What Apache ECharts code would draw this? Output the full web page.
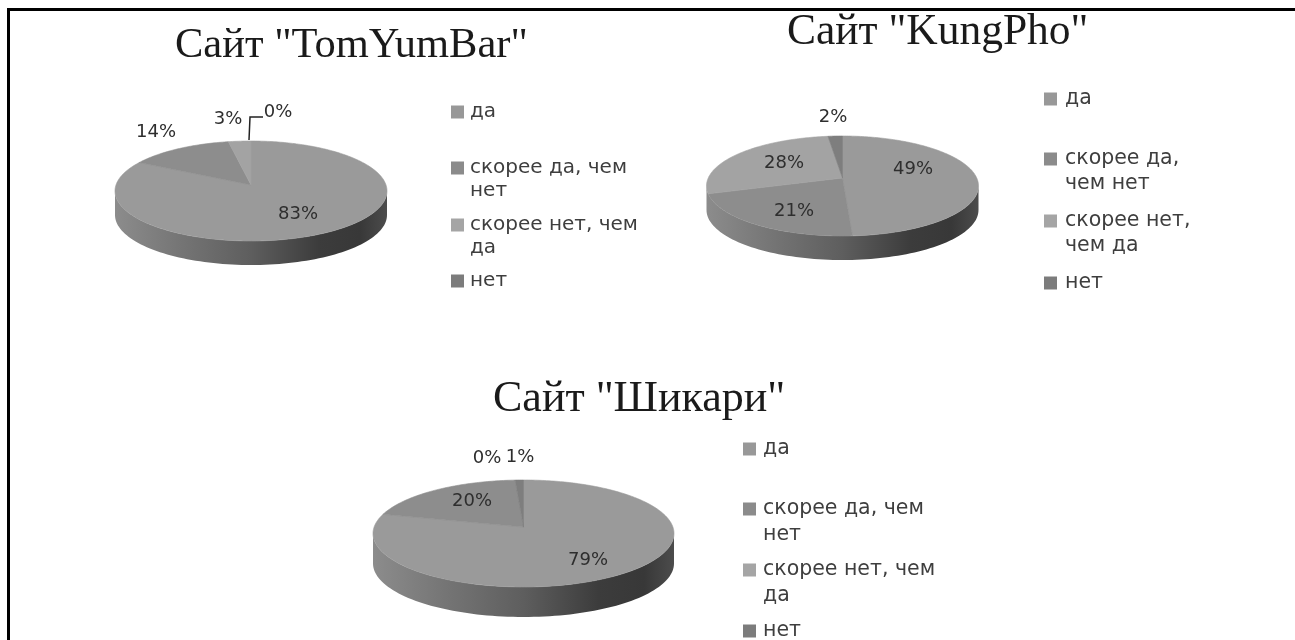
<!DOCTYPE html>
<html>
<head>
<meta charset="utf-8">
<style>
html,body{margin:0;padding:0;background:#fff;overflow:hidden}
#frame{position:absolute;left:7px;top:8px;width:1288px;height:632px;border-left:3px solid #000;border-top:3px solid #000;box-sizing:border-box;z-index:2;pointer-events:none}
#chart{position:absolute;left:0;top:0;width:1295px;height:640px;filter:blur(0.6px)}
</style>
<script src="https://cdn.jsdelivr.net/npm/echarts@6/dist/echarts.min.js"></script>
</head>
<body>
<div id="frame"></div>
<div id="chart"></div>
<script>
const categories = ['да', 'скорее да, чем нет', 'скорее нет, чем да', 'нет'];
const tomYumBarValues = [83, 14, 3, 0];
const kungPhoValues = [49, 21, 28, 2];
const shikariValues = [79, 20, 0, 1];
const titles = ['Сайт "TomYumBar"', 'Сайт "KungPho"', 'Сайт "Шикари"'];

const sliceColors = ['#9a9a9a', '#8d8d8d', '#a3a3a3', '#7e7e7e'];
const legendColors = ['#989898', '#8b8b8b', '#a5a5a5', '#7c7c7c'];

const pies = [
  { title: titles[0], values: tomYumBarValues,
    titleLeft: 175, titleTop: 24, titleSize: 42.5,
    cx: 251, cy: 191, rx: 136, ry: 50, depth: 24, k: 0.12,
    labelSize: 18,
    labels: [[298, 214], [156, 132], [228, 119], [278, 112]],
    leader: { index: 3, points: [[249, 140], [250, 117], [263, 117]] },
    legendX: 451, legendSize: 20, lineHeight: 23, textPad: 1,
    legendY: [111, 167, 224, 280],
    breaks: ['да', 'скорее да, чем\nнет', 'скорее нет, чем\nда', 'нет'] },
  { title: titles[1], values: kungPhoValues,
    titleLeft: 787, titleTop: 11, titleSize: 43.5,
    cx: 842.5, cy: 186, rx: 136, ry: 50, depth: 24, k: 0.16,
    labelSize: 18,
    labels: [[913, 169], [794, 211], [784, 163], [833, 117]],
    leader: null,
    legendX: 1044, legendSize: 20.5, lineHeight: 25, textPad: 3,
    legendY: [98, 158, 220, 282],
    breaks: ['да', 'скорее да,\nчем нет', 'скорее нет,\nчем да', 'нет'] },
  { title: titles[2], values: shikariValues,
    titleLeft: 493, titleTop: 377, titleSize: 44,
    cx: 523.5, cy: 533.5, rx: 150.5, ry: 53.5, depth: 30, k: 0.12,
    labelSize: 18,
    labels: [[588, 560], [472, 501], [487, 458], [520, 457]],
    leader: null,
    legendX: 743, legendSize: 20.5, lineHeight: 26, textPad: 2,
    legendY: [448, 508, 569, 630],
    breaks: ['да', 'скорее да, чем\nнет', 'скорее нет, чем\nда', 'нет'] }
];

const SWATCH = 13;

// point on the tilted pie rim for a share (0..100) clockwise from the top
function rimPoint(p, pct) {
  const t = pct / 100 * 2 * Math.PI;
  const x = Math.sin(t), y = -Math.cos(t);
  const w = 1 - p.k * y;
  return [p.cx + p.rx * x * Math.sqrt(1 - p.k * p.k) / w,
          p.cy + p.ry * (y - p.k) / w];
}

function sliceRender(p, idx) {
  return function (params, api) {
    const value = api.value(0), start = api.value(1);
    const children = [];
    if (value > 0) {
      const pts = [[p.cx, p.cy - p.k * p.ry]];
      const n = Math.max(2, Math.ceil(value * 3.6));
      for (let i = 0; i <= n; i++) pts.push(rimPoint(p, start + value * i / n));
      children.push({ type: 'polygon', shape: { points: pts },
        style: { fill: sliceColors[idx], stroke: sliceColors[idx], lineWidth: 0.6 } });
    }
    if (p.leader && p.leader.index === idx) {
      children.push({ type: 'polyline', shape: { points: p.leader.points }, z2: 9,
        style: { stroke: '#222', lineWidth: 1.5, fill: null } });
    }
    children.push({ type: 'text', z2: 10, style: {
      text: value + '%', x: p.labels[idx][0], y: p.labels[idx][1],
      align: 'center', verticalAlign: 'middle',
      font: p.labelSize + 'px "DejaVu Sans"', fill: '#2e2e2e' } });
    return { type: 'group', children };
  };
}

function sideRender(p) {
  return function () {
    const top = [], bottom = [];
    for (let a = -90; a <= 90; a += 2) {
      const r = a * Math.PI / 180;
      const x = p.cx + p.rx * Math.sin(r), y = p.cy + p.ry * Math.cos(r);
      top.push([x, y]);
      bottom.unshift([x, y + p.depth]);
    }
    return { type: 'polygon', shape: { points: top.concat(bottom) }, style: {
      fill: new echarts.graphic.LinearGradient(0, 0, 1, 0, [
        { offset: 0, color: '#8c8c8c' }, { offset: 0.25, color: '#747474' },
        { offset: 0.5, color: '#5e5e5e' }, { offset: 0.75, color: '#3c3c3c' },
        { offset: 0.9, color: '#383838' }, { offset: 1, color: '#4c4c4c' }]) } };
  };
}

const series = [], legends = [];
pies.forEach(function (p) {
  series.push({ type: 'custom', name: 'боковая сторона', coordinateSystem: 'none',
    silent: true, data: [[100]], renderItem: sideRender(p), animation: false });
  let cum = 0;
  p.values.forEach(function (v, i) {
    series.push({ type: 'custom', name: categories[i], coordinateSystem: 'none',
      silent: true, data: [[v, cum]], renderItem: sliceRender(p, i), animation: false,
      itemStyle: { color: legendColors[i] } });
    cum += v;
    const text = p.breaks[i];
    const lines = text.split('\n').length;
    const h = SWATCH + (lines - 1) * p.lineHeight;
    // invisible tail on the path keeps the swatch beside the first line of a wrapped entry
    const icon = 'path://M0 0H' + SWATCH + 'V' + SWATCH + 'H0Z' +
      (lines > 1 ? 'M0 ' + h + 'L0.01 ' + h : '');
    legends.push({
      show: true, orient: 'vertical', padding: 0, selectedMode: false,
      left: p.legendX, top: p.legendY[i] - p.lineHeight / 2 - 1,
      itemWidth: SWATCH, itemHeight: h, itemGap: 0,
      symbolKeepAspect: false,
      data: [{ name: categories[i], icon: icon, itemStyle: { color: legendColors[i] } }],
      formatter: function () { return text; },
      textStyle: { fontFamily: 'DejaVu Sans', fontSize: p.legendSize, color: '#3e3e3e',
        lineHeight: p.lineHeight, padding: [4, 0, 0, p.textPad] }
    });
  });
});

const chart = echarts.init(document.getElementById('chart'));
chart.setOption({
  backgroundColor: '#ffffff',
  animation: false,
  title: pies.map(function (p) {
    return { text: p.title, left: p.titleLeft, top: p.titleTop, padding: 0,
      textStyle: { fontFamily: 'Liberation Serif', fontWeight: 'normal',
        fontSize: p.titleSize, color: '#1a1a1a' } };
  }),
  legend: legends,
  series: series
});
</script>
</body>
</html>
